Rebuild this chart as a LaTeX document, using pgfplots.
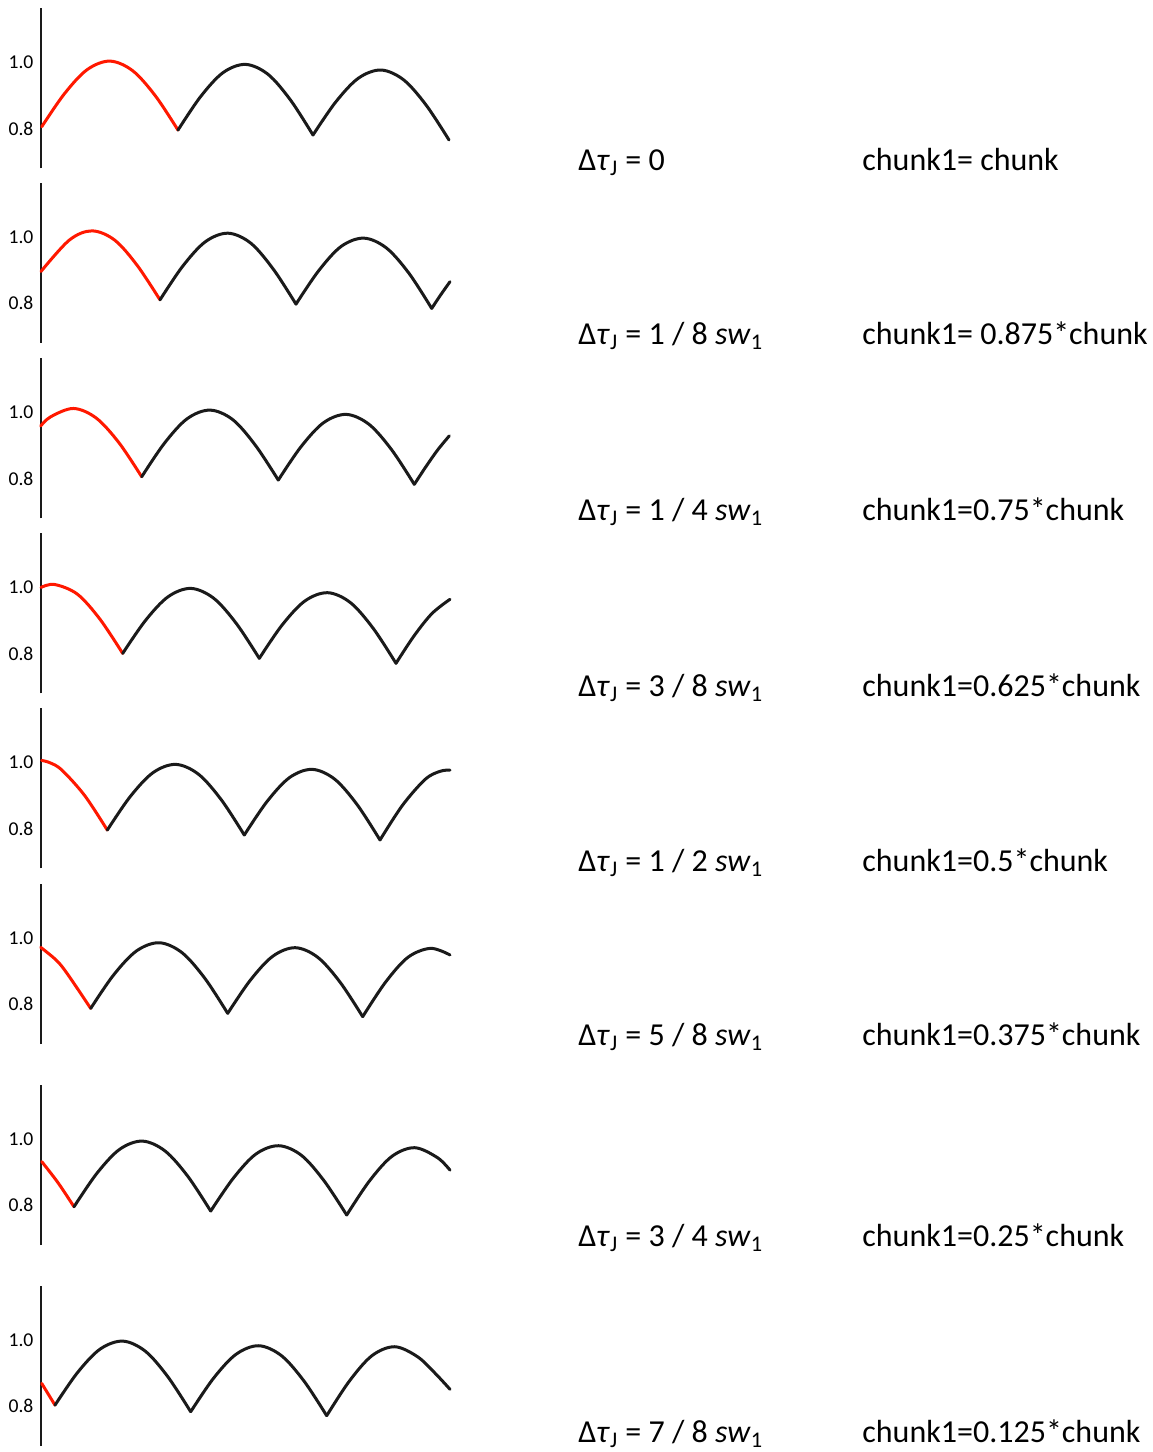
\documentclass[border=0pt]{standalone}
\usepackage{fontspec}
\setmainfont{Carlito}
\usepackage{pgfplots}
\pgfplotsset{compat=1.18}
\definecolor{cred}{RGB}{255,24,0}
\definecolor{cblk}{RGB}{26,26,26}
\pgfplotsset{
  panel/.style={
    anchor=north west,
    x=0.5pt, y=165pt,
    xmin=41, xmax=450, ymin=0.679, ymax=1.164,
    axis x line=none,
    axis y line=left,
    axis line style={-, line width=1.35pt, cblk},
    xtick=\empty,
    ytick={0.8,1.0}, yticklabels={0.8,1.0},
    major tick length=0pt,
    yticklabel style={font=\fontsize{9.8}{10}\selectfont, inner sep=0pt, anchor=east, xshift=-3.6pt},
    clip=false,
    every axis plot/.append style={line width=1.5pt, smooth, tension=0.55, mark=none, line cap=round, line join=round},
  },
  redseg/.style={cred},
  blkseg/.style={cblk},
}
\newcommand{\lab}[3]{%
  \node[anchor=base west, inner sep=0pt, font=\fontsize{16}{19}\selectfont] at (289pt,-#1pt) {#2};
  \node[anchor=base west, inner sep=0pt, font=\fontsize{16}{19}\selectfont] at (431pt,-#1pt) {#3};}
\newcommand{\dt}{Δ\textit{τ}\textsubscript{J}}
\newcommand{\sw}{\textit{sw}\textsubscript{1}}
\begin{document}
\begin{tikzpicture}
\path[use as bounding box] (0,0) rectangle (576pt,-726pt);
% panel 1
\begin{axis}[panel, at={(20.5pt,-4.15pt)}]
\addplot[redseg] coordinates {(41.7,.805)(64.4,.905)(87.1,.978)(109.9,1.004)(132.6,.975)(155.3,.899)(178,.795)};
\addplot[blkseg] coordinates {(178,.795)(200.5,.896)(223,.969)(245.5,.994)(268,.964)(290.5,.886)(313,.780)};
\addplot[blkseg] coordinates {(313,.780)(335.7,.880)(358.3,.952)(381,.977)(403.7,.947)(426.3,.870)(449,.765)};
\end{axis}
% panel 2
\begin{axis}[panel, at={(20.5pt,-91.35pt)}]
\addplot[redseg] coordinates {(41,.895)(69.3,.990)(92,1.018)(114.7,.990)(137.3,.913)(160,.809)};
\addplot[blkseg] coordinates {(160,.809)(182.7,.911)(205.3,.985)(228,1.011)(250.7,.981)(273.3,.902)(296,.796)};
\addplot[blkseg] coordinates {(296,.796)(318.6,.897)(341.2,.971)(363.9,.996)(386.5,.966)(409.1,.889)(431.7,.783)};
\addplot[blkseg] coordinates {(431.7,.783)(440.9,.825)(450,.864)};
\end{axis}
% panel 3
\begin{axis}[panel, at={(20.5pt,-179.15pt)}]
\addplot[redseg] coordinates {(40.7,.959)(50.8,.987)(73.5,1.012)(96.2,.983)(119,.908)(141.7,.805)};
\addplot[blkseg] coordinates {(141.7,.805)(164.5,.907)(187.2,.981)(210,1.007)(232.8,.978)(255.5,.900)(278.3,.795)};
\addplot[blkseg] coordinates {(278.3,.795)(301,.896)(323.6,.969)(346.3,.994)(369,.964)(391.6,.887)(414.3,.782)};
\addplot[blkseg] coordinates {(414.3,.782)(426,.836)(437.6,.886)(449.3,.929)};
\end{axis}
% panel 4
\begin{axis}[panel, at={(20.5pt,-266.65pt)}]
\addplot[redseg] coordinates {(41,1.000)(54.4,1.009)(77.2,.980)(99.9,.904)(122.7,.800)};
\addplot[blkseg] coordinates {(122.7,.800)(145.5,.900)(168.2,.972)(191,.997)(213.8,.967)(236.5,.890)(259.3,.785)};
\addplot[blkseg] coordinates {(259.3,.785)(282.1,.886)(304.9,.959)(327.7,.984)(350.4,.954)(373.2,.876)(396,.770)};
\addplot[blkseg] coordinates {(396,.770)(414,.853)(432,.921)(450,.964)};
\end{axis}
% panel 5
\begin{axis}[panel, at={(20.5pt,-354.15pt)}]
\addplot[redseg] coordinates {(41.7,1.006)(50,.999)(61.8,.977)(84.6,.900)(107.3,.795)};
\addplot[blkseg] coordinates {(107.3,.795)(130.1,.896)(153,.969)(175.8,.994)(198.6,.964)(221.5,.886)(244.3,.780)};
\addplot[blkseg] coordinates {(244.3,.780)(266.9,.881)(289.5,.954)(312.2,.979)(334.8,.949)(357.4,.871)(380,.765)};
\addplot[blkseg] coordinates {(380,.765)(402.7,.871)(425.3,.949)(440,.973)(450,.977)};
\end{axis}
% panel 6
\begin{axis}[panel, at={(20.5pt,-442pt)}]
\addplot[redseg] coordinates {(40.7,.972)(56.7,.932)(68,.889)(90.7,.787)};
\addplot[blkseg] coordinates {(90.7,.787)(113.5,.888)(136.4,.961)(159.2,.986)(182,.956)(204.9,.878)(227.7,.772)};
\addplot[blkseg] coordinates {(227.7,.772)(250.2,.872)(272.7,.945)(295.2,.971)(317.7,.942)(340.2,.866)(362.7,.762)};
\addplot[blkseg] coordinates {(362.7,.762)(385.4,.866)(408,.942)(430.7,.969)(450,.949)};
\end{axis}
% panel 7
\begin{axis}[panel, at={(20.5pt,-542.5pt)}]
\addplot[redseg] coordinates {(41.7,.932)(58,.868)(74,.795)};
\addplot[blkseg] coordinates {(74,.795)(96.8,.896)(119.6,.969)(142.4,.994)(165.1,.964)(187.9,.887)(210.7,.782)};
\addplot[blkseg] coordinates {(210.7,.782)(233.4,.882)(256,.955)(278.7,.980)(301.4,.951)(324,.874)(346.7,.770)};
\addplot[blkseg] coordinates {(346.7,.770)(369.4,.873)(392,.948)(414.7,.974)(437.4,.944)(450,.906)};
\end{axis}
% panel 8
\begin{axis}[panel, at={(20.5pt,-643pt)}]
\addplot[redseg] coordinates {(41.7,.869)(55,.803)};
\addplot[blkseg] coordinates {(55,.803)(77.6,.902)(100.2,.973)(122.9,.997)(145.5,.966)(168.1,.888)(190.7,.783)};
\addplot[blkseg] coordinates {(190.7,.783)(213.4,.884)(236,.957)(258.7,.983)(281.4,.953)(304,.876)(326.7,.771)};
\addplot[blkseg] coordinates {(326.7,.771)(349.4,.876)(372,.953)(394.7,.980)(417.4,.950)(435,.900)(450,.851)};
\end{axis}
\lab{85}{\dt{} = 0}{chunk1= chunk}
\lab{172}{\dt{} = 1 / 8 \sw}{chunk1= 0.875*chunk}
\lab{260}{\dt{} = 1 / 4 \sw}{chunk1=0.75*chunk}
\lab{348}{\dt{} = 3 / 8 \sw}{chunk1=0.625*chunk}
\lab{435.5}{\dt{} = 1 / 2 \sw}{chunk1=0.5*chunk}
\lab{522.5}{\dt{} = 5 / 8 \sw}{chunk1=0.375*chunk}
\lab{623}{\dt{} = 3 / 4 \sw}{chunk1=0.25*chunk}
\lab{721.3}{\dt{} = 7 / 8 \sw}{chunk1=0.125*chunk}
\end{tikzpicture}
\end{document}
